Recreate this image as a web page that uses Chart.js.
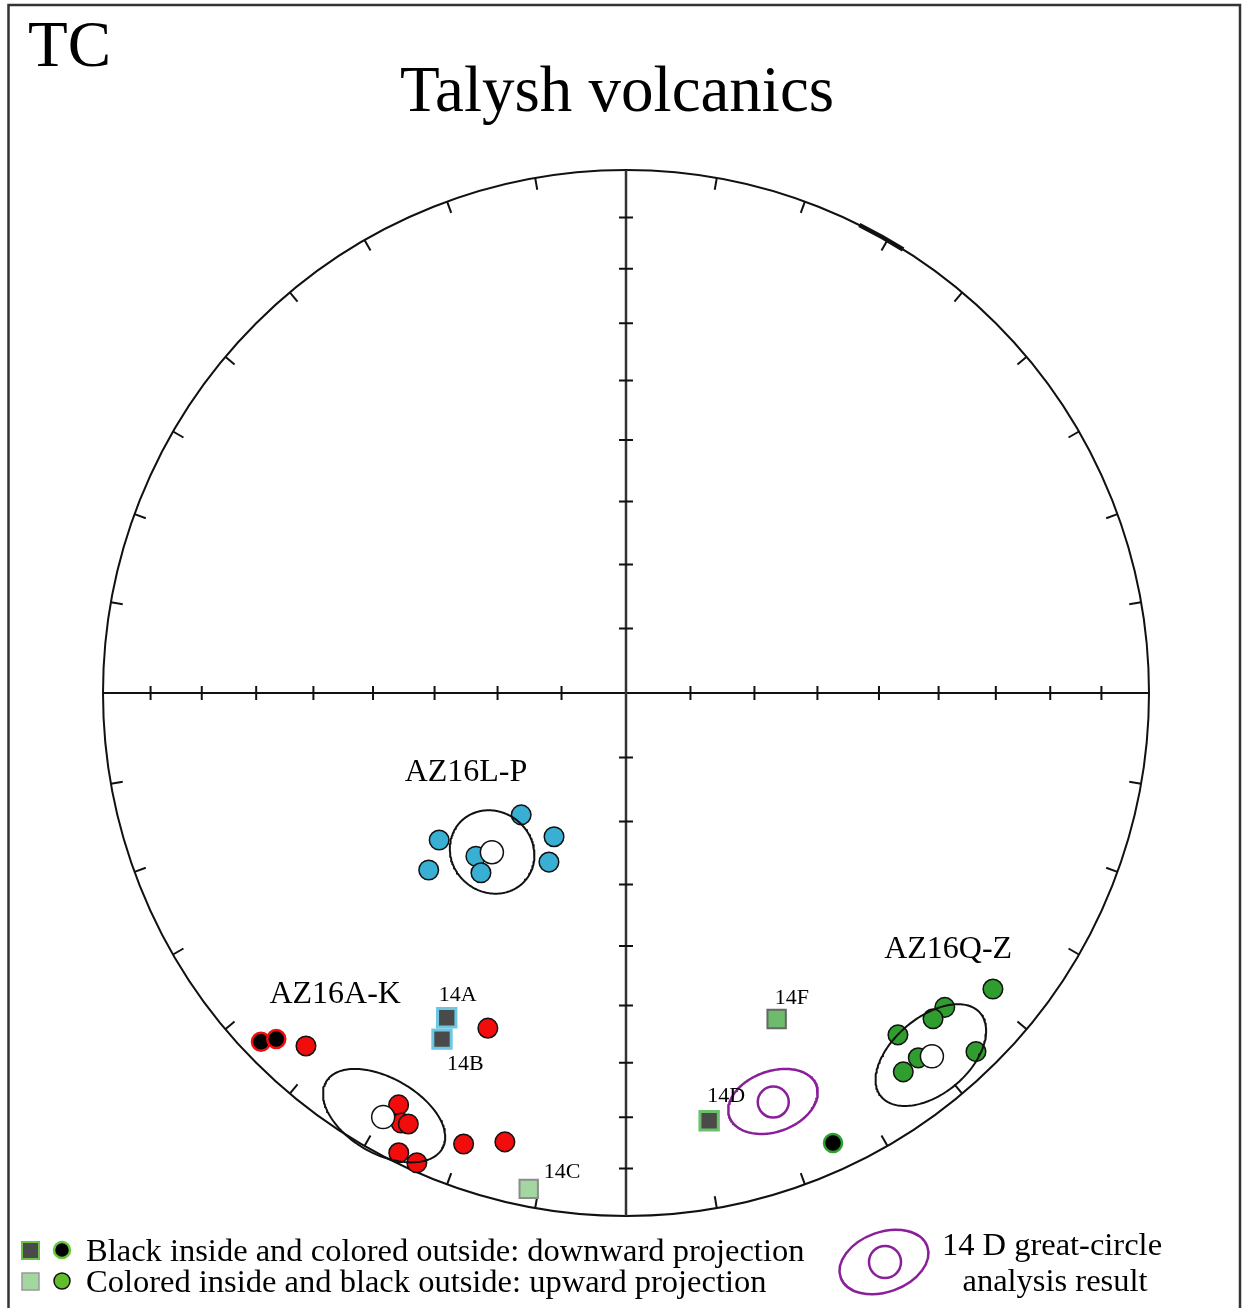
<!DOCTYPE html>
<html>
<head>
<meta charset="utf-8">
<script src="https://cdn.jsdelivr.net/npm/chart.js@4.4.1/dist/chart.umd.min.js"></script>
<style>
  html, body { margin: 0; padding: 0; background: #fff; }
  canvas { display: block; }
</style>
</head>
<body>
<canvas id="net" width="1244" height="1308"></canvas>
<script>
// =========================
// data (declination / inclination, degrees; inc < 0 = upward)
// =========================
// AZ16L-P (blue)
const lpDec = [220.7, 231.8, 206.6, 204.5, 228.1, 222.6, 218.9];
const lpInc = [-64.9, -52.5, -64.9, -60.9, -48.0, -55.1, -53.6];
// AZ16A-K (red)
const akDec = [222.2, 202.4, 208.9, 207.6, 206.8, 206.3, 204.0, 199.8, 195.1, 226.3, 225.3];
const akInc = [-9.8, -31.3, -11.0, -8.0, -8.5, -2.2, -1.9, -9.2, -12.1, 3.9, 6.6];
// AZ16Q-Z (green)
const qzDec = [128.9, 134.6, 136.7, 141.5, 141.3, 143.8, 135.7, 155.3];
const qzInc = [-10.8, -15.5, -15.5, -17.6, -11.6, -11.2, -4.7, 5.9];

// group means + a95
const groupNames = ['AZ16L-P', 'AZ16A-K', 'AZ16Q-Z'];
const groupDec = [220.1, 209.8, 139.9];
const groupInc = [-57.3, -7.3, -10.1];
const groupA95 = [6.5, 7.8, 7.7];

// single samples (squares)
const sampleNames = ['14A', '14B', '14C', '14D', '14F'];
const sampleDec = [208.9, 208.0, 191.1, 169.0, 155.2];
const sampleInc = [29.8, 26.0, -3.8, 17.8, -31.9];

// 14D great-circle analysis result
const gcDec = [160.2];
const gcInc = [-18.0];
const gcA95 = [5.8];

// net ticks
const decTicks = [0, 10, 20, 30, 40, 50, 60, 70, 80, 90, 100, 110, 120, 130, 140, 150, 160, 170,
                  180, 190, 200, 210, 220, 230, 240, 250, 260, 270, 280, 290, 300, 310, 320, 330, 340, 350];
const incTicks = [10, 20, 30, 40, 50, 60, 70, 80];

// =========================
// styles
// =========================
const SERIF = '"Liberation Serif", "Times New Roman", serif';
const groupColor = ['#38afd3', '#f20c0c', '#2f9e2f'];
const groupLabelAt = [[-0.306, -0.168], [-0.556, -0.593], [0.616, -0.507]]; // text centre/baseline, net units
const sampleFill = ['#4a4a4a', '#4a4a4a', '#a3d7a0', '#4a4a4a', '#6cbc6c'];
const sampleEdge = ['#6cc8e2', '#6cc8e2', '#8c8c8c', '#6cc06c', '#666666'];
const sampleLabelOff = [[-8, -17], [5, 31], [15, -11], [-2, -19], [-2, -15]]; // px from square
const PURPLE = '#8a1f9a';

// =========================
// equal-area projection
// =========================
const rad = Math.PI / 180;
function project(dec, inc) {
  const r = Math.SQRT2 * Math.sin((90 - Math.abs(inc)) * rad / 2);
  return { x: r * Math.sin(dec * rad), y: r * Math.cos(dec * rad) };
}
// small circle of radius a around (dec, inc), drawn on the lower net
function cone(dec, inc, a) {
  const D = dec * rad, I = Math.abs(inc) * rad, A = a * rad;
  const m = [Math.cos(I) * Math.sin(D), Math.cos(I) * Math.cos(D), Math.sin(I)];
  const u = [Math.cos(D), -Math.sin(D), 0];
  const w = [-Math.sin(I) * Math.sin(D), -Math.sin(I) * Math.cos(D), Math.cos(I)];
  const pts = [];
  for (let k = 0; k <= 180; k++) {
    const t = k * 2 * Math.PI / 180;
    const p = [0, 1, 2].map(j => Math.cos(A) * m[j] + Math.sin(A) * (Math.cos(t) * u[j] + Math.sin(t) * w[j]));
    const th = Math.acos(Math.max(-1, Math.min(1, p[2])));
    const r = Math.SQRT2 * Math.sin(th / 2);
    const az = Math.atan2(p[0], p[1]);
    pts.push({ x: r * Math.sin(az), y: r * Math.cos(az) });
  }
  return pts;
}

function pointSet(dec, inc, color) {
  return {
    data: dec.map((d, i) => project(d, inc[i])),
    showLine: false,
    pointRadius: inc.map(v => v < 0 ? 9.8 : 9),
    pointBackgroundColor: inc.map(v => v < 0 ? color : '#000'),
    pointBorderColor: inc.map(v => v < 0 ? '#111' : color),
    pointBorderWidth: inc.map(v => v < 0 ? 1.5 : 2.5),
    order: 3
  };
}
function coneSet(pts, color, width) {
  return {
    data: pts, showLine: true, pointRadius: 0, borderColor: color,
    borderWidth: width, fill: false, tension: 0, order: 0
  };
}

const datasets = [
  pointSet(lpDec, lpInc, groupColor[0]),
  pointSet(akDec, akInc, groupColor[1]),
  pointSet(qzDec, qzInc, groupColor[2]),
  {
    // samples 14A..14F
    data: sampleDec.map((d, i) => project(d, sampleInc[i])),
    showLine: false, pointStyle: 'rect', pointRadius: 13,
    pointBackgroundColor: sampleFill, pointBorderColor: sampleEdge,
    pointBorderWidth: sampleInc.map(v => v < 0 ? 2 : 3),
    order: 2
  },
  {
    // group means
    data: groupDec.map((d, i) => project(d, groupInc[i])),
    showLine: false, pointRadius: 11.5,
    pointBackgroundColor: '#fff', pointBorderColor: '#111', pointBorderWidth: 1.5,
    order: 1
  },
  coneSet(cone(groupDec[0], groupInc[0], groupA95[0]), '#111', 2),
  coneSet(cone(groupDec[1], groupInc[1], groupA95[1]), '#111', 2),
  coneSet(cone(groupDec[2], groupInc[2], groupA95[2]), '#111', 2),
  coneSet(cone(gcDec[0], gcInc[0], gcA95[0]), PURPLE, 2.5),
  {
    data: gcDec.map((d, i) => project(d, gcInc[i])),
    showLine: false, pointRadius: 15.5,
    pointBackgroundColor: 'rgba(0,0,0,0)', pointBorderColor: PURPLE, pointBorderWidth: 2.5,
    order: 0
  }
];

// =========================
// net, labels, legend
// =========================
const netPlugin = {
  id: 'net',
  beforeDatasetsDraw(chart) {
    const ctx = chart.ctx;
    const xs = chart.scales.x, ys = chart.scales.y;
    const cx = xs.getPixelForValue(0), cy = ys.getPixelForValue(0);
    const R = xs.getPixelForValue(1) - cx;
    ctx.save();
    // outer frame
    ctx.strokeStyle = '#333';
    ctx.lineWidth = 2.5;
    ctx.beginPath();
    ctx.moveTo(8.5, 1320); ctx.lineTo(8.5, 5); ctx.lineTo(1240, 5); ctx.lineTo(1240, 1320);
    ctx.stroke();

    // primitive
    ctx.strokeStyle = '#111';
    ctx.lineWidth = 2;
    ctx.beginPath();
    ctx.arc(cx, cy, R, 0, 2 * Math.PI);
    ctx.stroke();
    // north-east marker
    ctx.lineWidth = 4.5;
    ctx.beginPath();
    ctx.arc(cx, cy, R, (26.5 - 90) * rad, (32 - 90) * rad);
    ctx.stroke();

    // declination ticks
    ctx.lineWidth = 2;
    decTicks.forEach(d => {
      const s = Math.sin(d * rad), c = Math.cos(d * rad);
      ctx.beginPath();
      ctx.moveTo(cx + R * s, cy - R * c);
      ctx.lineTo(cx + (R - 12) * s, cy - (R - 12) * c);
      ctx.stroke();
    });

    // axes
    ctx.beginPath();
    ctx.moveTo(cx - R, cy); ctx.lineTo(cx + R, cy);
    ctx.stroke();
    ctx.strokeStyle = '#333';
    ctx.lineWidth = 2.5;
    ctx.beginPath();
    ctx.moveTo(cx, cy - R); ctx.lineTo(cx, cy + R);
    ctx.stroke();

    // inclination ticks
    ctx.strokeStyle = '#111';
    ctx.lineWidth = 2;
    incTicks.forEach(inc => {
      const p = project(90, inc).x * R;
      ctx.beginPath();
      [-1, 1].forEach(sg => {
        ctx.moveTo(cx + sg * p, cy - 7); ctx.lineTo(cx + sg * p, cy + 7);
        ctx.moveTo(cx - 7, cy + sg * p); ctx.lineTo(cx + 7, cy + sg * p);
      });
      ctx.stroke();
    });
    ctx.restore();
  },
  afterDatasetsDraw(chart) {
    const ctx = chart.ctx;
    const xs = chart.scales.x, ys = chart.scales.y;
    ctx.save();
    ctx.fillStyle = '#000';

    // group labels
    ctx.font = '32px ' + SERIF;
    ctx.textAlign = 'center';
    ctx.textBaseline = 'alphabetic';
    groupNames.forEach((n, i) => {
      ctx.fillText(n, xs.getPixelForValue(groupLabelAt[i][0]), ys.getPixelForValue(groupLabelAt[i][1]));
    });

    // sample labels
    ctx.font = '22px ' + SERIF;
    ctx.textAlign = 'left';
    const meta = chart.getDatasetMeta(3);
    sampleNames.forEach((n, i) => {
      const el = meta.data[i];
      ctx.fillText(n, el.x + sampleLabelOff[i][0], el.y + sampleLabelOff[i][1]);
    });

    // title
    ctx.font = '65px ' + SERIF;
    ctx.fillText('TC', 28, 66);
    ctx.textAlign = 'center';
    ctx.fillText('Talysh volcanics', 617, 111);

    // legend: symbols
    ctx.lineWidth = 2;
    ctx.fillStyle = '#4a4a4a'; ctx.strokeStyle = '#6cc04a';
    ctx.fillRect(22, 1242, 17, 17); ctx.strokeRect(22, 1242, 17, 17);
    ctx.fillStyle = '#a3d7a0'; ctx.strokeStyle = '#999';
    ctx.lineWidth = 1.5;
    ctx.fillRect(22, 1273, 17, 17); ctx.strokeRect(22, 1273, 17, 17);
    ctx.beginPath(); ctx.arc(62, 1250, 8, 0, 2 * Math.PI);
    ctx.fillStyle = '#000'; ctx.fill();
    ctx.lineWidth = 2.5; ctx.strokeStyle = '#66c83a'; ctx.stroke();
    ctx.beginPath(); ctx.arc(62, 1281, 8, 0, 2 * Math.PI);
    ctx.fillStyle = '#62bd2c'; ctx.fill();
    ctx.lineWidth = 1.5; ctx.strokeStyle = '#111'; ctx.stroke();

    ctx.fillStyle = '#000';
    ctx.font = '32.5px ' + SERIF;
    ctx.textAlign = 'left';
    ctx.fillText('Black inside and colored outside: downward projection', 86, 1261);
    ctx.fillText('Colored inside and black outside: upward projection', 86, 1292);

    // legend: great circle result
    ctx.strokeStyle = PURPLE;
    ctx.lineWidth = 2.5;
    ctx.beginPath();
    ctx.ellipse(884, 1262, 46, 30, -20 * rad, 0, 2 * Math.PI);
    ctx.stroke();
    ctx.beginPath();
    ctx.arc(885, 1262, 16, 0, 2 * Math.PI);
    ctx.stroke();
    ctx.textAlign = 'center';
    ctx.fillText('14 D great-circle', 1052, 1255);
    ctx.fillText('analysis result', 1055, 1291);
    ctx.restore();
  }
};

new Chart(document.getElementById('net'), {
  type: 'scatter',
  data: { datasets: datasets },
  options: {
    responsive: false,
    animation: false,
    devicePixelRatio: 1,
    layout: { padding: { left: 103, right: 95, top: 170, bottom: 92 } },
    scales: {
      x: { type: 'linear', min: -1, max: 1, display: false },
      y: { type: 'linear', min: -1, max: 1, display: false }
    },
    elements: { line: { borderJoinStyle: 'round' } },
    datasets: { scatter: { clip: false } },
    plugins: {
      legend: { display: false },
      tooltip: { enabled: false }
    }
  },
  plugins: [netPlugin]
});
</script>
</body>
</html>
